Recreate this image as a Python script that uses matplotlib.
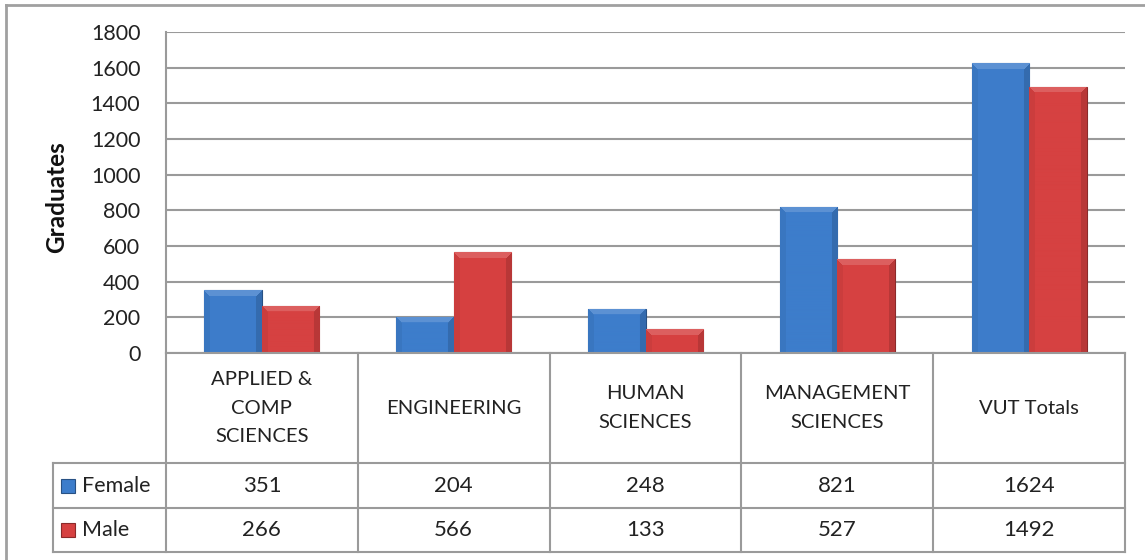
import numpy as np
import matplotlib
matplotlib.use("Agg")
import matplotlib.pyplot as plt
from matplotlib.patches import Rectangle
from matplotlib.lines import Line2D
from matplotlib.colors import to_rgb

categories = ["APPLIED &\nCOMP\nSCIENCES", "ENGINEERING", "HUMAN\nSCIENCES",
              "MANAGEMENT\nSCIENCES", "VUT Totals"]
series_names = ["Female", "Male"]
female = [351, 204, 248, 821, 1624]
male = [266, 566, 133, 527, 1492]
yticks = [0, 200, 400, 600, 800, 1000, 1200, 1400, 1600, 1800]
ylabel = "Graduates"

colors = ["#3D7DCB", "#D64141"]
FONT = ["Lato", "DejaVu Sans"]
plt.rcParams['font.family'] = FONT

W, H = 1145, 560
fig = plt.figure(figsize=(W / 100, H / 100), dpi=100)

def fx(px):
    return px / W

def fy(py):
    return 1 - py / H

L, R, T, B = 166, 1125, 32, 353
ax = fig.add_axes([fx(L), fy(B), fx(R) - fx(L), fy(T) - fy(B)])
ax.set_xlim(-0.5, len(categories) - 0.5)
ax.set_ylim(0, 1800)
ax.set_yticks(yticks)
ax.set_yticklabels([str(t) for t in yticks], fontsize=15.5, color="#222222")
ax.tick_params(axis="y", length=0, pad=18.5)
ax.set_xticks([])
for s in ["top", "right", "bottom"]:
    ax.spines[s].set_visible(False)
ax.spines["left"].set_color("#9a9a9a")
ax.spines["left"].set_linewidth(1.5)
ax.yaxis.grid(True, color="#9a9a9a", linewidth=1.5)
ax.set_axisbelow(True)

x = np.arange(len(categories))
bw = 0.3
series = [female, male]


def shade(base, nx, ny, bev=6):
    c = np.array(to_rgb(base))
    img = np.zeros((ny, nx, 3))
    for i in range(ny):
        for j in range(nx):
            dl, dr, dt = j, nx - 1 - j, i
            m = min(dl, dr, dt)
            col = c.copy()
            if m < bev:
                if dt == m:
                    col = col + (1 - col) * 0.16
                elif dr == m:
                    col = col * 0.86
                else:
                    col = col * 0.95
            img[i, j] = np.clip(col, 0, 1)
    return img

bars_all = []
for i, (vals, col) in enumerate(zip(series, colors)):
    bars = ax.bar(x + (i - 0.5) * bw, vals, width=bw, color=col,
                  edgecolor=np.array(to_rgb(col)) * 0.65, linewidth=0.8,
                  label=series_names[i], zorder=3)
    bars_all.append(bars)

px_per_unit_y = (B - T) / 1800.0
px_per_unit_x = (R - L) / len(categories)
for bars, col in zip(bars_all, colors):
    for p in bars:
        x0, y0 = p.get_x(), p.get_y()
        w, h = p.get_width(), p.get_height()
        nx = max(int(round(w * px_per_unit_x)), 2)
        ny = max(int(round(h * px_per_unit_y)), 2)
        img = shade(col, nx, ny)
        im = ax.imshow(img, extent=[x0, x0 + w, y0, y0 + h], aspect="auto",
                       zorder=3.5, interpolation="bilinear")
        im.set_clip_path(p)

ax.set_xlim(-0.5, len(categories) - 0.5)
ax.set_ylim(0, 1800)

# y label
fig.text(fx(57), fy(197), ylabel, rotation=90, ha="center", va="center",
         fontsize=17.5, fontweight="bold", color="#111111")

# table
gc = "#9a9a9a"
lw = 1.5
col_w = (R - L) / len(categories)
row_head_bottom = 463
row1_bottom = 508
row2_bottom = 552
leg_left = 53

def hline(y, x0, x1):
    fig.add_artist(Line2D([fx(x0), fx(x1)], [fy(y), fy(y)], color=gc, lw=lw))

def vline(xp, y0, y1):
    fig.add_artist(Line2D([fx(xp), fx(xp)], [fy(y0), fy(y1)], color=gc, lw=lw))

hline(B, L, R)
hline(row_head_bottom, leg_left, R)
hline(row1_bottom, leg_left, R)
hline(row2_bottom, leg_left, R)
vline(L, B, row2_bottom)
vline(leg_left, row_head_bottom, row2_bottom)
for k in range(1, len(categories) + 1):
    vline(L + k * col_w, B, row2_bottom)

for k, cat in enumerate(categories):
    cx = L + (k + 0.5) * col_w
    fig.text(fx(cx), fy((B + row_head_bottom) / 2), cat, ha="center", va="center",
             fontsize=14.6, color="#222222", linespacing=1.8)
    for r, (vals, ytop, ybot) in enumerate(zip(series, [row_head_bottom, row1_bottom],
                                                [row1_bottom, row2_bottom])):
        fig.text(fx(cx), fy((ytop + ybot) / 2), str(vals[k]), ha="center",
                 va="center", fontsize=16, color="#222222")

for r, (name, col, ytop, ybot) in enumerate(zip(series_names, colors,
                                                 [row_head_bottom, row1_bottom],
                                                 [row1_bottom, row2_bottom])):
    cy = (ytop + ybot) / 2
    fig.add_artist(Rectangle((fx(61), fy(cy + 7)), fx(14), fy(0) - fy(14),
                             facecolor=col, edgecolor=np.array(to_rgb(col)) * 0.65,
                             lw=0.8))
    fig.text(fx(82), fy(cy), name, ha="left", va="center", fontsize=15.5,
             color="#222222")

# outer border (top and left visible)
fig.add_artist(Line2D([fx(6), fx(W + 5)], [fy(5), fy(5)], color="#a0a0a0", lw=2))
fig.add_artist(Line2D([fx(6), fx(6)], [fy(5), fy(H + 5)], color="#a0a0a0", lw=2))

fig.savefig("out.png", dpi=100, facecolor="white")
